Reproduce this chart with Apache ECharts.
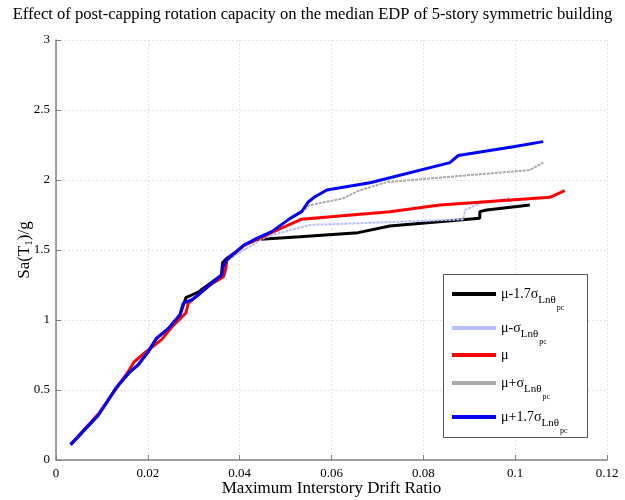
<!DOCTYPE html>
<html><head><meta charset="utf-8">
<script src="https://cdn.jsdelivr.net/npm/echarts@6/dist/echarts.min.js"></script>
<style>html,body{margin:0;padding:0;background:#fff}#c{width:625px;height:500px}</style>
</head><body><div id="c"></div>
<script>
const titleText = 'Effect of post-capping rotation capacity on the median EDP of 5-story symmetric building';
const xTicks = [0, 0.02, 0.04, 0.06, 0.08, 0.1, 0.12];
const yTicks = [0, 0.5, 1, 1.5, 2, 2.5, 3];

const seriesNames = ['μ-1.7σ', 'μ-σ', 'μ', 'μ+σ', 'μ+1.7σ'];

const blackCurve = [[0.0032,0.11],[0.0092,0.32],[0.0132,0.52],[0.0161,0.63],[0.0179,0.68],[0.0201,0.774],[0.0219,0.869],[0.0245,0.94],[0.027,1.036],[0.0283,1.16],[0.031,1.2],[0.0335,1.26],[0.036,1.32],[0.0363,1.41],[0.0372,1.44],[0.0393,1.49],[0.041,1.535],[0.0437,1.575],[0.0531,1.595],[0.0658,1.624],[0.0727,1.671],[0.0923,1.726],[0.0923,1.774],[0.0938,1.786],[0.1032,1.821]];

const lightBlueCurve = [[0.0032,0.11],[0.0092,0.32],[0.0132,0.52],[0.0161,0.63],[0.0179,0.68],[0.0201,0.774],[0.0219,0.869],[0.0245,0.94],[0.027,1.036],[0.0277,1.119],[0.0285,1.131],[0.0295,1.143],[0.031,1.179],[0.0335,1.25],[0.0361,1.32],[0.0364,1.381],[0.0372,1.42],[0.0393,1.47],[0.0422,1.525],[0.0455,1.59],[0.051,1.643],[0.0553,1.679],[0.0749,1.702],[0.0887,1.719],[0.0891,1.786],[0.0923,1.833],[0.0989,1.872]];

const redCurve = [[0.0032,0.11],[0.0095,0.34],[0.0135,0.53],[0.0155,0.62],[0.017,0.7],[0.0195,0.77],[0.023,0.86],[0.0255,0.96],[0.0283,1.05],[0.0288,1.12],[0.031,1.18],[0.0335,1.25],[0.0365,1.31],[0.037,1.37],[0.0372,1.43],[0.0393,1.49],[0.041,1.535],[0.044,1.58],[0.0473,1.63],[0.0535,1.72],[0.0727,1.774],[0.0836,1.821],[0.1076,1.876],[0.1108,1.924]];

const grayCurve = [[0.0032,0.11],[0.0092,0.32],[0.0132,0.52],[0.0161,0.63],[0.0179,0.68],[0.0201,0.774],[0.0219,0.869],[0.0245,0.94],[0.027,1.036],[0.0277,1.119],[0.0285,1.131],[0.0295,1.143],[0.031,1.179],[0.0335,1.25],[0.0361,1.32],[0.0364,1.381],[0.0372,1.429],[0.0393,1.488],[0.041,1.536],[0.0437,1.583],[0.047,1.631],[0.051,1.726],[0.0535,1.774],[0.0553,1.82],[0.0626,1.869],[0.0658,1.922],[0.072,1.985],[0.1032,2.071],[0.1061,2.124]];

const blueCurve = [[0.0032,0.11],[0.0092,0.32],[0.0132,0.52],[0.0161,0.63],[0.0179,0.68],[0.0201,0.774],[0.0219,0.869],[0.0245,0.94],[0.027,1.036],[0.0277,1.119],[0.0285,1.131],[0.0295,1.143],[0.031,1.179],[0.0335,1.25],[0.0361,1.32],[0.0364,1.381],[0.0372,1.429],[0.0393,1.488],[0.041,1.536],[0.0437,1.583],[0.047,1.631],[0.051,1.726],[0.0535,1.774],[0.055,1.845],[0.0564,1.88],[0.059,1.929],[0.0684,1.98],[0.0858,2.124],[0.0876,2.175],[0.0996,2.238],[0.1061,2.274]];

const curves = [blackCurve, lightBlueCurve, redCurve, grayCurve, blueCurve];
const colors = ['#000000', '#b8bff4', '#ff0000', '#aaaaaa', '#0000ff'];
const widths = [3, 2, 3, 2, 3];
const lineTypes = ['solid', [3, 1], 'solid', [3, 1], 'solid'];

// legend entry vertical positions (layout)
const legendTops = [287, 321, 348, 376, 410];

const serif = '"Liberation Serif", "DejaVu Serif", serif';
const legendRich = {
  m0: { fontFamily: serif, fontSize: 14, color: '#000', verticalAlign: 'top', padding: [4, 0, 4, 0] },
  m: { fontFamily: serif, fontSize: 14, color: '#000', verticalAlign: 'top', padding: [11, 0, 0, 0] },
  s: { fontFamily: serif, fontSize: 11, color: '#000', verticalAlign: 'top', padding: [19, 0, 0, 0] },
  ss: { fontFamily: serif, fontSize: 8, color: '#000', verticalAlign: 'top', padding: [28, 0, 0, 1] }
};
const chart = echarts.init(document.getElementById('c'));
chart.setOption({
  animation: false,
  title: { text: titleText, left: 'center', top: 1,
    textStyle: { fontFamily: serif, fontSize: 16.6, fontWeight: 'normal', color: '#000' } },
  grid: { left: 56, right: 18, top: 40, bottom: 40, outerBoundsMode: 'none', containLabel: false },
  graphic: [{
    type: 'rect', z: 1, silent: true,
    shape: { x: 443.5, y: 274.5, width: 144, height: 163 },
    style: { fill: '#fff', stroke: '#555', lineWidth: 1 }
  }],
  xAxis: {
    type: 'value', min: 0, max: 0.12, interval: 0.02,
    name: 'Maximum Interstory Drift Ratio', nameLocation: 'middle', nameGap: 20,
    nameMoveOverlap: false,
    nameTextStyle: { fontFamily: serif, fontSize: 17, color: '#000' },
    axisLine: { lineStyle: { color: '#808080', width: 1.5 } },
    axisTick: { inside: true, length: 5, lineStyle: { color: '#808080' } },
    axisLabel: { fontFamily: serif, fontSize: 13, color: '#000', margin: 7,
      formatter: v => (v === 0 ? '0' : String(+v.toFixed(2))) },
    splitLine: { show: true, lineStyle: { color: '#e2e2e2', type: [2, 2] } }
  },
  yAxis: {
    type: 'value', min: 0, max: 3, interval: 0.5,
    name: '{a|Sa(T}{b|1}{a|)/g}', nameLocation: 'middle', nameGap: 21,
    nameMoveOverlap: false,
    nameTextStyle: { rich: {
      a: { fontFamily: serif, fontSize: 17, color: '#000' },
      b: { fontFamily: serif, fontSize: 11, color: '#000', verticalAlign: 'bottom', padding: [10, 0, 0, 0] }
    } },
    axisLine: { show: true, lineStyle: { color: '#808080', width: 1.5 } },
    axisTick: { show: true, inside: true, length: 5, lineStyle: { color: '#808080' } },
    axisLabel: { fontFamily: serif, fontSize: 13, color: '#000', margin: 6 },
    splitLine: { show: true, lineStyle: { color: '#e2e2e2', type: [2, 2] } }
  },
  legend: seriesNames.map((n, i) => ({
    orient: 'vertical', left: 452, top: legendTops[i], padding: 0,
    itemWidth: 44, itemHeight: 4, icon: 'rect', z: 4,
    data: [n],
    formatter: name => (name === 'μ' ? '{m0|μ}' : '{m|' + name + '}{s|Lnθ}{ss|pc}'),
    textStyle: { rich: legendRich }
  })),
  series: curves.map((d, i) => ({
    name: seriesNames[i], type: 'line', data: d, symbol: 'none',
    color: colors[i],
    lineStyle: { color: colors[i], width: widths[i], type: lineTypes[i] },
    z: 2 + i
  }))
});
</script></body></html>
